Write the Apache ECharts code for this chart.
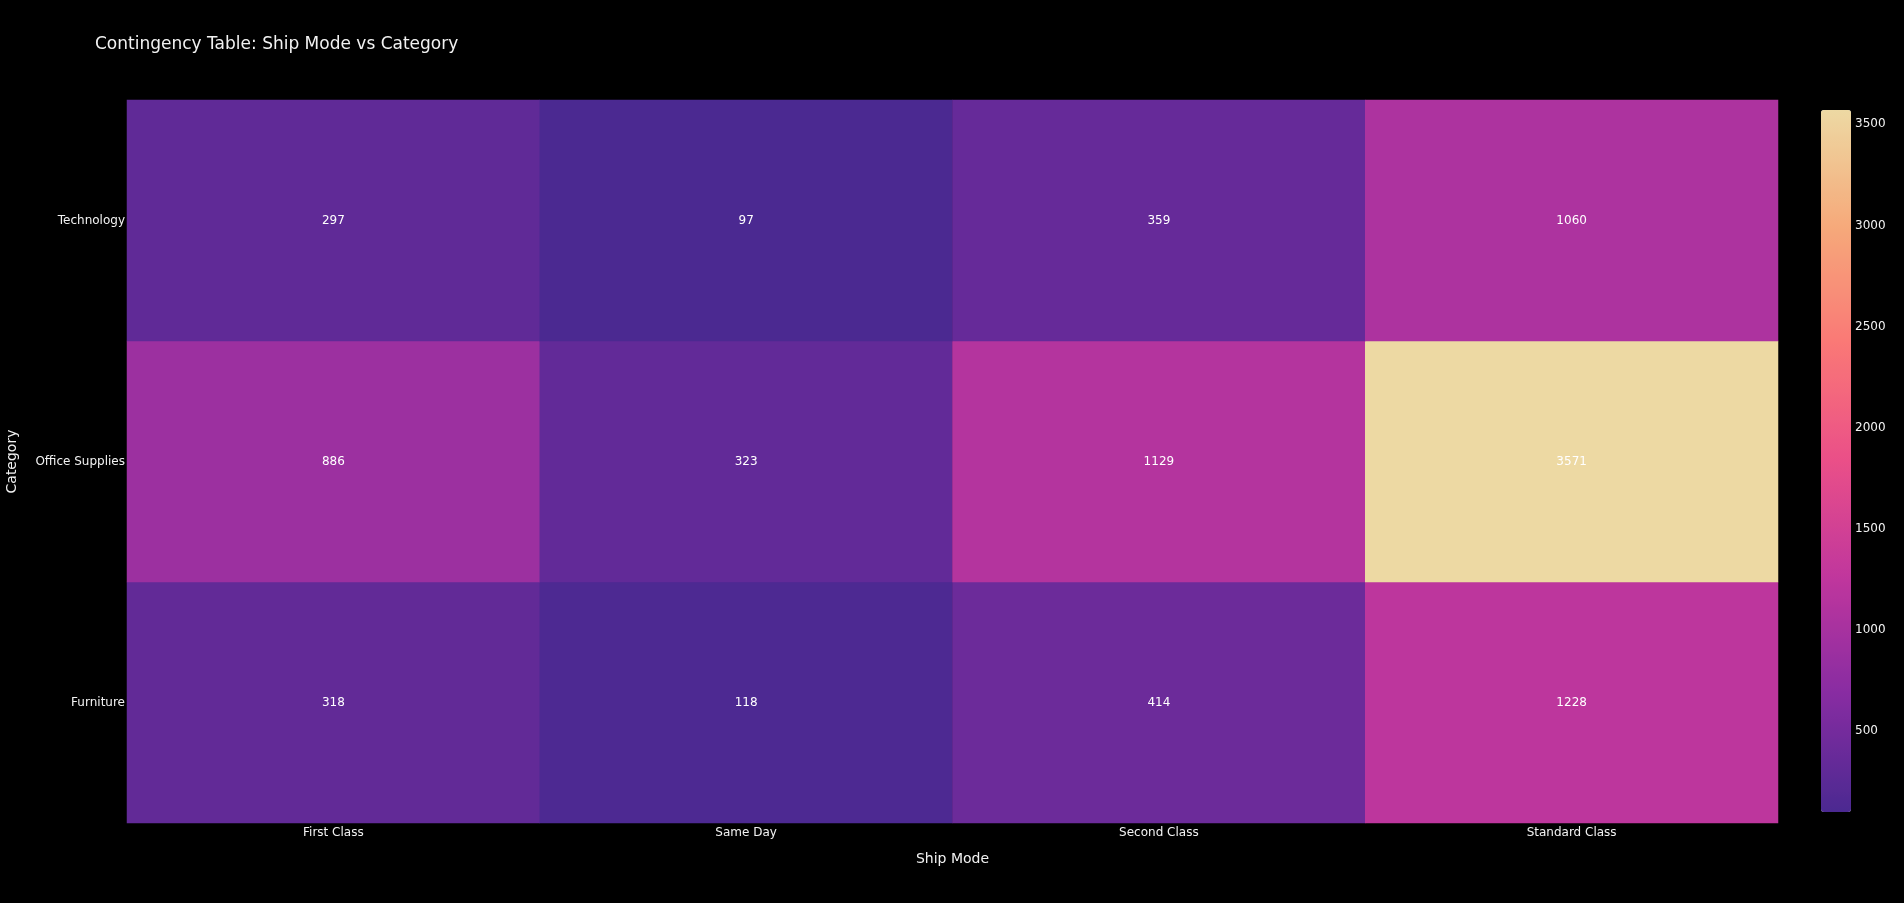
<!DOCTYPE html>
<html>
<head>
<meta charset="utf-8">
<script src="https://cdn.jsdelivr.net/npm/echarts@6/dist/echarts.min.js"></script>
<style>
html,body{margin:0;padding:0;background:#000;}
#chart{width:1904px;height:903px;}
</style>
</head>
<body>
<div id="chart"></div>
<script>
var shipModes = ['First Class', 'Same Day', 'Second Class', 'Standard Class'];
var categories = ['Furniture', 'Office Supplies', 'Technology'];
var furnitureCounts = [318, 118, 414, 1228];
var officeSuppliesCounts = [886, 323, 1129, 3571];
var technologyCounts = [297, 97, 359, 1060];
var colorbarTicks = [500, 1000, 1500, 2000, 2500, 3000, 3500];
var colorMin = 97;
var colorMax = 3571;
var agsunset = ['rgb(75,41,145)', 'rgb(135,44,162)', 'rgb(192,54,157)', 'rgb(234,79,136)', 'rgb(250,120,118)', 'rgb(246,169,122)', 'rgb(237,217,163)'];

var rows = [furnitureCounts, officeSuppliesCounts, technologyCounts];
var data = [];
rows.forEach(function (row, yi) {
  row.forEach(function (v, xi) { data.push([xi, yi, v]); });
});

var FONT = 'DejaVu Sans';
var chart = echarts.init(document.getElementById('chart'));
chart.setOption({
  backgroundColor: '#000',
  animation: false,
  textStyle: { fontFamily: FONT },
  title: {
    text: 'Contingency Table: Ship Mode vs Category',
    left: 95, top: 36, padding: 0,
    textStyle: { color: '#f2f2f2', fontSize: 17, fontWeight: 'normal', fontFamily: FONT }
  },
  grid: [
    { left: 127, right: 126, top: 100, bottom: 80, outerBoundsMode: 'none', containLabel: false },
    { left: 1821, width: 30, top: 110, height: 702, show: false, outerBoundsMode: 'none', containLabel: false }
  ],
  xAxis: [
    {
      type: 'category', data: shipModes, gridIndex: 0,
      axisLine: { show: false }, axisTick: { show: false }, splitLine: { show: false },
      axisLabel: { color: '#f2f2f2', fontSize: 12, margin: 4, fontFamily: FONT },
      name: 'Ship Mode', nameLocation: 'middle', nameGap: 29,
      nameTextStyle: { color: '#f2f2f2', fontSize: 14, fontFamily: FONT }
    },
    { type: 'value', gridIndex: 1, show: false }
  ],
  yAxis: [
    {
      type: 'category', data: categories, gridIndex: 0,
      axisLine: { show: false }, axisTick: { show: false }, splitLine: { show: false },
      axisLabel: { color: '#f2f2f2', fontSize: 12, margin: 2, fontFamily: FONT },
      name: 'Category', nameLocation: 'middle', nameGap: 108,
      nameTextStyle: { color: '#f2f2f2', fontSize: 14, fontFamily: FONT }
    },
    {
      type: 'value', gridIndex: 1, position: 'right', min: colorMin, max: colorMax,
      axisLine: { show: false }, axisTick: { show: false }, splitLine: { show: false },
      axisLabel: {
        color: '#f2f2f2', fontSize: 12, margin: 4, fontFamily: FONT,
        customValues: colorbarTicks,
        formatter: function (v) { return String(v); }
      }
    }
  ],
  visualMap: {
    type: 'continuous', min: colorMin, max: colorMax, calculable: false,
    seriesIndex: 0, orient: 'vertical', left: 1821, top: 110,
    itemWidth: 30, itemHeight: 702, padding: 0, text: null, showLabel: false,
    inRange: { color: agsunset }, hoverLink: false
  },
  series: [{
    type: 'heatmap', xAxisIndex: 0, yAxisIndex: 0, data: data,
    label: { show: true, color: '#ffffff', fontSize: 12, fontFamily: FONT },
    itemStyle: { borderWidth: 0 },
    emphasis: { disabled: true }
  }]
});
</script>
</body>
</html>
